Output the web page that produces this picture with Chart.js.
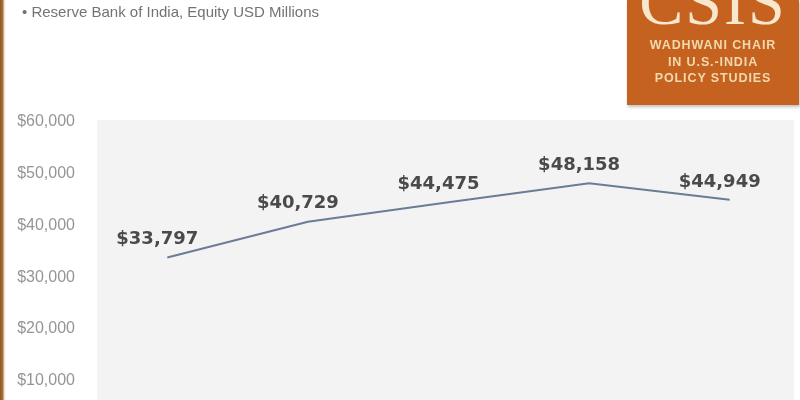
<!DOCTYPE html>
<html>
<head>
<meta charset="utf-8">
<script src="https://cdn.jsdelivr.net/npm/chart.js@4"></script>
<style>
  html, body { margin: 0; padding: 0; width: 800px; height: 400px; overflow: hidden; background: #fff; }
  #edge { position: absolute; left: 0; top: 0; width: 6px; height: 400px;
          background: linear-gradient(to right, #8a5a2c 0, #a8723c 3px, #f6dcc0 4px, #fff 6px); }
  #bullet { position: absolute; left: 22px; top: 3px; font-family: 'Liberation Sans Narrow', 'Liberation Sans', sans-serif;
            font-size: 15px; color: #737373; white-space: nowrap; }
  #logo { position: absolute; left: 627px; top: 0; width: 172px; height: 105px; background: #c5621f;
          box-shadow: 1px 2px 3px rgba(0,0,0,0.25); color: #f7e7cc; text-align: center; overflow: hidden; }
  #logo .big { position: absolute; left: 0; width: 100%; top: -36px; font-family: 'Liberation Serif', serif;
               font-size: 66px; letter-spacing: 2px; }
  #logo .small { position: absolute; left: 0; width: 100%; top: 37px; font-family: 'Liberation Sans', sans-serif;
                 font-weight: bold; font-size: 12.5px; letter-spacing: 0.9px; line-height: 16.5px; color: #f2d9ad; }
  #wrap { position: absolute; left: 0; top: 0; width: 800px; height: 464px; }
</style>
</head>
<body>
<div id="wrap"><canvas id="equityChart"></canvas></div>
<div id="edge"></div>
<div id="bullet">&bull; Reserve Bank of India, Equity USD Millions</div>
<div id="logo">
  <div class="big">CSIS</div>
  <div class="small">WADHWANI CHAIR<br>IN U.S.-INDIA<br>POLICY STUDIES</div>
</div>
<script>
// data
const years = ['2009', '2010', '2011', '2012', '2013'];
const equity = [33797, 40729, 44475, 48158, 44949];
const yTicks = [0, 10000, 20000, 30000, 40000, 50000, 60000];

const money = v => '$' + v.toLocaleString('en-US');

// light gray plot background
const plotBg = {
  id: 'plotBg',
  beforeDraw(chart) {
    const { ctx, chartArea } = chart;
    ctx.save();
    ctx.fillStyle = '#f3f3f3';
    ctx.fillRect(chartArea.left, chartArea.top - 2, chartArea.right - chartArea.left - 6, chart.height);
    ctx.restore();
  }
};

// value labels above each point
const valueLabels = {
  id: 'valueLabels',
  afterDatasetsDraw(chart) {
    const { ctx } = chart;
    const meta = chart.getDatasetMeta(0);
    ctx.save();
    ctx.font = 'bold 18px "DejaVu Sans", sans-serif';
    ctx.fillStyle = '#4a4a4a';
    ctx.textAlign = 'center';
    ctx.textBaseline = 'middle';
    meta.data.forEach((pt, i) => {
      ctx.fillText(money(chart.data.datasets[0].data[i]), pt.x - 10, pt.y - 18);
    });
    ctx.restore();
  }
};

new Chart(document.getElementById('equityChart'), {
  type: 'line',
  data: {
    labels: years,
    datasets: [{
      data: equity,
      borderColor: '#6a7c96',
      borderWidth: 2,
      pointRadius: 0,
      tension: 0,
      fill: false
    }]
  },
  options: {
    responsive: true,
    maintainAspectRatio: false,
    animation: false,
    layout: { padding: { top: 122, bottom: 4, left: 0, right: 0 } },
    plugins: { legend: { display: false }, tooltip: { enabled: false } },
    scales: {
      x: { display: false, offset: true },
      y: {
        min: 0,
        max: 60000,
        afterBuildTicks: s => { s.ticks = yTicks.map(v => ({ value: v })); },
        afterFit: s => { s.width = 97; },
        grid: { display: false, drawTicks: false },
        border: { display: false },
        ticks: {
          padding: 22,
          color: '#959595',
          font: { family: 'Liberation Sans Narrow, Liberation Sans, sans-serif', size: 16 },
          callback: v => money(v)
        }
      }
    }
  },
  plugins: [plotBg, valueLabels]
});
</script>
</body>
</html>
